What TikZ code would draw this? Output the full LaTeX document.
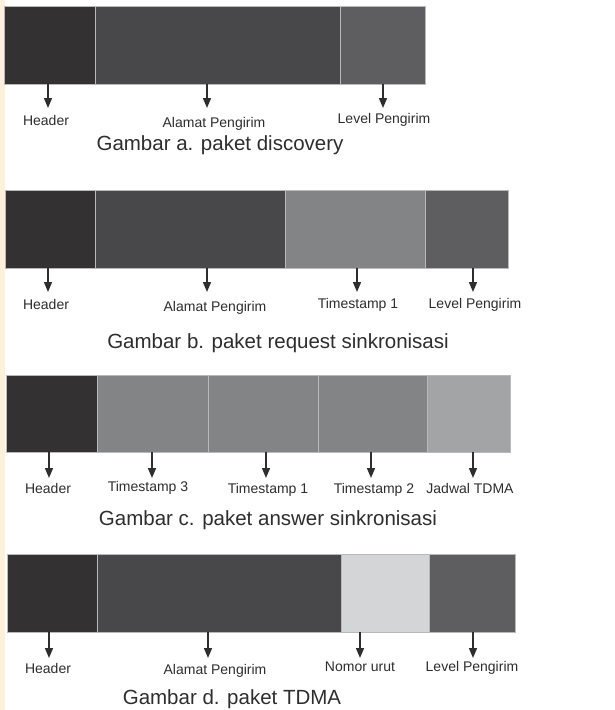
\documentclass[tikz,border=0pt]{standalone}
\usepackage{fontspec}
\setmainfont{Liberation Sans}
\usetikzlibrary{arrows.meta}

\definecolor{hdrgray}{HTML}{333132}
\definecolor{addrgray}{HTML}{48484A}
\definecolor{lvlgray}{HTML}{5E5E60}
\definecolor{tsgray}{HTML}{838486}
\definecolor{jdwgray}{HTML}{A3A4A6}
\definecolor{nomgray}{HTML}{D4D5D7}
\definecolor{txtgray}{HTML}{2E2E2E}
\definecolor{stripe}{HTML}{FDF0DC}

\begin{document}
\begin{tikzpicture}[x=1pt, y=-1pt]
    \tikzstyle{seg} = [rectangle, draw=gray!55, line width=0.4pt, inner sep=0pt, minimum height=78pt]
    \tikzstyle{lbl} = [anchor=base, inner sep=0pt, text=txtgray, font=\fontsize{14}{14}\selectfont]
    \tikzstyle{caption} = [anchor=base, inner sep=0pt, text=txtgray, font=\fontsize{20.5}{20.5}\selectfont]
    \tikzstyle{arr} = [-{Triangle[length=10pt,width=8pt]}, line width=1.4pt, draw=txtgray]

    \useasboundingbox (0,0) rectangle (615,710);
    \fill[white] (0,0) rectangle (615,710);
    \fill[stripe] (0,0) rectangle (5,710);

    % a. paket discovery
    \node [seg, fill=hdrgray, minimum width=91pt] (a1) at (49.5,45) {};
    \node [seg, fill=addrgray, minimum width=245pt] (a2) at (217.5,45) {};
    \node [seg, fill=lvlgray, minimum width=85pt] (a3) at (382.5,45) {};
    \coordinate (pa1) at (48,108);
    \coordinate (pa2) at (207,108);
    \coordinate (pa3) at (383,108);
    \draw [arr] (a1.south -| pa1) -- (pa1);
    \draw [arr] (a2.south -| pa2) -- (pa2);
    \draw [arr] (a3.south -| pa3) -- (pa3);
    \node [lbl] (la1) at (46,125) {Header};
    \node [lbl] (la2) at (214,127) {Alamat Pengirim};
    \node [lbl] (la3) at (384,123) {Level Pengirim};
    \node [caption] (capa) at (220,150) {Gambar a. paket discovery};

    % b. paket request sinkronisasi
    \node [seg, fill=hdrgray, minimum width=90pt] (b1) at (50,229) {};
    \node [seg, fill=addrgray, minimum width=190pt] (b2) at (190,229) {};
    \node [seg, fill=tsgray, minimum width=140pt] (b3) at (355,229) {};
    \node [seg, fill=lvlgray, minimum width=83pt] (b4) at (466.5,229) {};
    \coordinate (pb1) at (48,292);
    \coordinate (pb2) at (207,292);
    \coordinate (pb3) at (357,292);
    \coordinate (pb4) at (473,292);
    \draw [arr] (b1.south -| pb1) -- (pb1);
    \draw [arr] (b2.south -| pb2) -- (pb2);
    \draw [arr] (b3.south -| pb3) -- (pb3);
    \draw [arr] (b4.south -| pb4) -- (pb4);
    \node [lbl] (lb1) at (46,309) {Header};
    \node [lbl] (lb2) at (215,311) {Alamat Pengirim};
    \node [lbl] (lb3) at (358,308) {Timestamp 1};
    \node [lbl] (lb4) at (475,308) {Level Pengirim};
    \node [caption] (capb) at (278,348) {Gambar b. paket request sinkronisasi};

    % c. paket answer sinkronisasi
    \node [seg, fill=hdrgray, minimum width=91pt, minimum height=77pt] (c1) at (51.5,413.5) {};
    \node [seg, fill=tsgray, minimum width=111pt, minimum height=77pt] (c2) at (152.5,413.5) {};
    \node [seg, fill=tsgray, minimum width=110pt, minimum height=77pt] (c3) at (263,413.5) {};
    \node [seg, fill=tsgray, minimum width=109pt, minimum height=77pt] (c4) at (372.5,413.5) {};
    \node [seg, fill=jdwgray, minimum width=83pt, minimum height=77pt] (c5) at (468.5,413.5) {};
    \coordinate (pc1) at (49,478);
    \coordinate (pc2) at (152,478);
    \coordinate (pc3) at (266,478);
    \coordinate (pc4) at (371,478);
    \coordinate (pc5) at (473,478);
    \draw [arr] (c1.south -| pc1) -- (pc1);
    \draw [arr] (c2.south -| pc2) -- (pc2);
    \draw [arr] (c3.south -| pc3) -- (pc3);
    \draw [arr] (c4.south -| pc4) -- (pc4);
    \draw [arr] (c5.south -| pc5) -- (pc5);
    \node [lbl] (lc1) at (48,493) {Header};
    \node [lbl] (lc2) at (148,491) {Timestamp 3};
    \node [lbl] (lc3) at (268,493) {Timestamp 1};
    \node [lbl] (lc4) at (374,493) {Timestamp 2};
    \node [lbl] (lc5) at (470,493) {Jadwal TDMA};
    \node [caption] (capc) at (268,525) {Gambar c. paket answer sinkronisasi};

    % d. paket TDMA
    \node [seg, fill=hdrgray, minimum width=90pt] (d1) at (52,593) {};
    \node [seg, fill=addrgray, minimum width=244pt] (d2) at (219,593) {};
    \node [seg, fill=nomgray, minimum width=88pt] (d3) at (385,593) {};
    \node [seg, fill=lvlgray, minimum width=86pt] (d4) at (472,593) {};
    \coordinate (pd1) at (49,658);
    \coordinate (pd2) at (208,658);
    \coordinate (pd3) at (360,658);
    \coordinate (pd4) at (473,658);
    \draw [arr] (d1.south -| pd1) -- (pd1);
    \draw [arr] (d2.south -| pd2) -- (pd2);
    \draw [arr] (d3.south -| pd3) -- (pd3);
    \draw [arr] (d4.south -| pd4) -- (pd4);
    \node [lbl] (ld1) at (48,673) {Header};
    \node [lbl] (ld2) at (215,674) {Alamat Pengirim};
    \node [lbl] (ld3) at (360,671) {Nomor urut};
    \node [lbl] (ld4) at (472,671) {Level Pengirim};
    \node [caption] (capd) at (232,704) {Gambar d. paket TDMA};
\end{tikzpicture}
\end{document}
